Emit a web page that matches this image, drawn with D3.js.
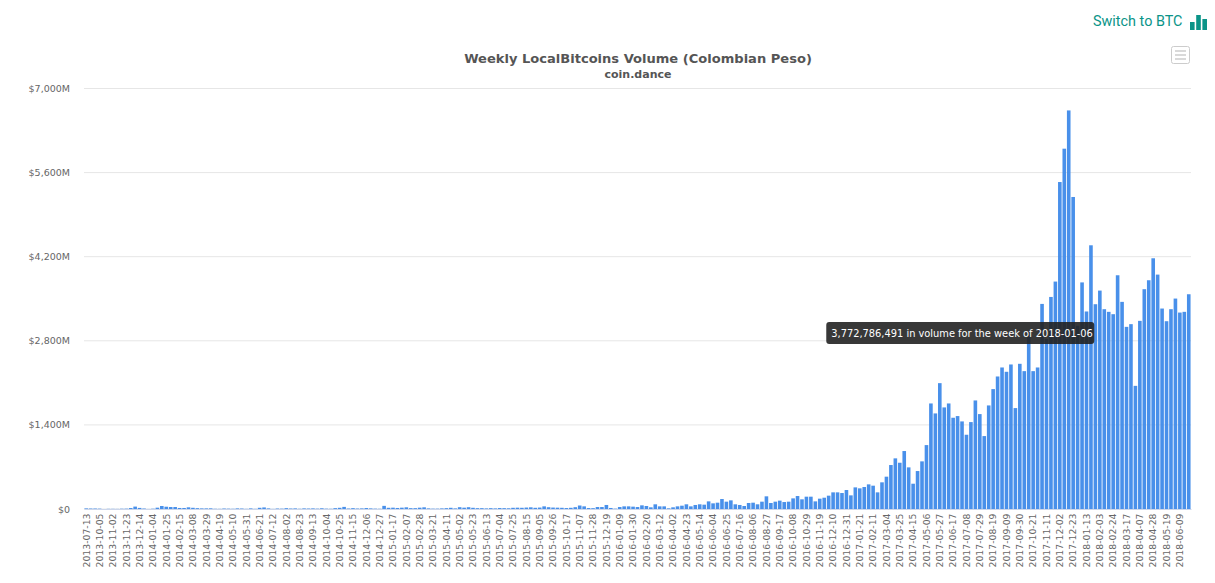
<!DOCTYPE html>
<html>
<head>
<meta charset="utf-8">
<title>Weekly LocalBitcoins Volume (Colombian Peso)</title>
<script src="https://cdn.jsdelivr.net/npm/d3@7"></script>
<style>
    html, body { margin: 0; padding: 0; background: #fff; }
    svg { display: block; }
    text { font-family: "DejaVu Sans", sans-serif; }
</style>
</head>
<body>
<svg id="chart" width="1215" height="583"></svg>
<script>
// every third week is labelled on the axis
var tickLabels = [
    "2013-07-13","2013-10-05","2013-11-02","2013-11-23","2013-12-14","2014-01-04","2014-01-25","2014-02-15",
    "2014-03-08","2014-03-29","2014-04-19","2014-05-10","2014-05-31","2014-06-21","2014-07-12","2014-08-02",
    "2014-08-23","2014-09-13","2014-10-04","2014-10-25","2014-11-15","2014-12-06","2014-12-27","2015-01-17",
    "2015-02-07","2015-02-28","2015-03-21","2015-04-11","2015-05-02","2015-05-23","2015-06-13","2015-07-04",
    "2015-07-25","2015-08-15","2015-09-05","2015-09-26","2015-10-17","2015-11-07","2015-11-28","2015-12-19",
    "2016-01-09","2016-01-30","2016-02-20","2016-03-12","2016-04-02","2016-04-23","2016-05-14","2016-06-04",
    "2016-06-25","2016-07-16","2016-08-06","2016-08-27","2016-09-17","2016-10-08","2016-10-29","2016-11-19",
    "2016-12-10","2016-12-31","2017-01-21","2017-02-11","2017-03-04","2017-03-25","2017-04-15","2017-05-06",
    "2017-05-27","2017-06-17","2017-07-08","2017-07-29","2017-08-19","2017-09-09","2017-09-30","2017-10-21",
    "2017-11-11","2017-12-02","2017-12-23","2018-01-13","2018-02-03","2018-02-24","2018-03-17","2018-04-07",
    "2018-04-28","2018-05-19","2018-06-09"
];

// weekly volume, millions of pesos
var volumes = [
    10,8,8,6,0,3,3,2,5,6,
    16,40,18,8,1,5,22,50,38,33,
    33,17,17,28,20,14,10,10,11,4,
    3,8,6,4,10,8,3,10,3,20,
    26,10,2,8,6,14,8,10,4,10,
    8,10,6,12,6,4,14,20,35,8,
    14,8,10,16,10,6,4,52,20,22,
    17,22,28,14,14,22,28,10,6,6,
    10,14,20,10,30,22,30,20,14,14,
    10,14,10,16,14,12,20,22,20,24,
    28,20,24,44,30,24,22,20,16,20,
    30,58,44,16,14,33,33,67,17,6,
    33,44,44,39,33,61,50,28,78,44,
    44,11,28,44,55,78,44,67,78,72,
    127,94,105,166,122,144,78,67,50,100,
    105,78,122,211,100,122,139,116,122,177,
    216,161,205,205,127,172,188,222,277,277,
    266,316,227,360,344,366,410,388,277,444,
    538,732,843,770,965,693,421,632,793,1064,
    1757,1591,2095,1691,1757,1519,1547,1458,1236,1447,
    1807,1580,1214,1724,1996,2206,2356,2284,2406,1680,
    2417,2295,2950,2295,2356,3414,2830,3530,3786,5443,
    5998,6635,5194,3050,3772,3288,4390,3409,3636,3326,
    3282,3243,3891,3448,3032,3077,2050,3132,3659,3808,
    4174,3902,3337,3126,3326,3503,3270,3282,3575
];

var yTicks = [0, 1400, 2800, 4200, 5600, 7000];
var iconBars = [8, 15, 11];

var titleText = "Weekly LocalBitcoins Volume (Colombian Peso)";
var subtitleText = "coin.dance";
var switchText = "Switch to BTC";
var tooltipIndex = 224;
var tooltipText = "3,772,786,491 in volume for the week of 2018-01-06";

var plotLeft = 84, plotRight = 1191, plotTop = 88.5, plotBottom = 509;
var svg = d3.select("#chart");

var x = d3.scaleBand().domain(d3.range(volumes.length)).range([plotLeft, plotRight]).paddingInner(0.19).paddingOuter(0.1);
var y = d3.scaleLinear().domain([0, 7000]).range([plotBottom, plotTop]);

// grid
svg.append("g").selectAll("line").data(yTicks).enter().append("line")
    .attr("x1", plotLeft).attr("x2", plotRight)
    .attr("y1", function(d) { return y(d); })
    .attr("y2", function(d) { return y(d); })
    .attr("stroke", "#e6e6e6")
    .attr("stroke-width", 1);

// bars
svg.append("g").selectAll("rect").data(volumes).enter().append("rect")
    .attr("x", function(d, i) { return x(i); })
    .attr("width", x.bandwidth())
    .attr("y", function(d) { return y(d); })
    .attr("height", function(d) { return plotBottom - y(d); })
    .attr("fill", "#3a87e8")
    .attr("fill-opacity", 0.92);

// y axis
var yAxis = d3.axisLeft(y).tickValues(yTicks).tickSize(0).tickPadding(0)
    .tickFormat(function(d) { return d === 0 ? "$0" : "$" + d3.format(",")(d) + "M"; });
var yG = svg.append("g").attr("transform", "translate(70,0)").call(yAxis);
yG.select(".domain").remove();
yG.selectAll("text").attr("fill", "#666").style("font-size", "9.5px");

// x axis
var xTicks = tickLabels.map(function(d, i) { return i * 3; });
var xAxis = d3.axisBottom(x).tickValues(xTicks).tickSize(0)
    .tickFormat(function(d) { return tickLabels[d / 3]; });
var xG = svg.append("g").attr("transform", "translate(0," + plotBottom + ")").call(xAxis);
xG.select(".domain").attr("stroke", "#ccd6eb");
xG.selectAll("text")
    .attr("fill", "#666")
    .attr("transform", "translate(0,4.5) rotate(-90)")
    .attr("x", 0).attr("y", 0).attr("dx", 0).attr("dy", "0.35em")
    .style("text-anchor", "end")
    .style("font-size", "9.3px");

// titles
svg.append("text").attr("x", 638).attr("y", 62.5).attr("text-anchor", "middle")
    .attr("fill", "#555").style("font-size", "13.05px").style("font-weight", "bold")
    .text(titleText);
svg.append("text").attr("x", 638).attr("y", 78).attr("text-anchor", "middle")
    .attr("fill", "#555").style("font-size", "11px").style("font-weight", "bold")
    .text(subtitleText);

// switch link and its little bar icon
svg.append("text").attr("x", 1093).attr("y", 26)
    .attr("fill", "#0b9488").style("font-family", "Roboto").style("font-size", "14.4px")
    .text(switchText);
svg.append("g").selectAll("rect").data(iconBars).enter().append("rect")
    .attr("x", function(d, i) { return 1190 + i * 6.2; })
    .attr("y", function(d) { return 30 - d; })
    .attr("width", 4.6)
    .attr("height", function(d) { return d; })
    .attr("fill", "#0b9488");

// export menu button
svg.append("rect").attr("x", 1171.5).attr("y", 46.5).attr("width", 18).attr("height", 17).attr("rx", 2)
    .attr("fill", "#fff").attr("stroke", "#ccc");
svg.append("g").selectAll("line").data([51, 55, 59]).enter().append("line")
    .attr("x1", 1175).attr("x2", 1186)
    .attr("y1", function(d) { return d; })
    .attr("y2", function(d) { return d; })
    .attr("stroke", "#ccc").attr("stroke-width", 1.5);

// tooltip, sits left of the hovered bar
var tipRight = x(tooltipIndex) + 14;
var tipG = svg.append("g");
tipG.append("rect").attr("x", tipRight - 268).attr("y", 322).attr("width", 268).attr("height", 22).attr("rx", 3)
    .attr("fill", "#222").attr("fill-opacity", 0.9);
tipG.append("text").attr("x", tipRight - 263).attr("y", 337)
    .attr("fill", "#fff").style("font-size", "9.85px")
    .text(tooltipText);
</script>
</body>
</html>
